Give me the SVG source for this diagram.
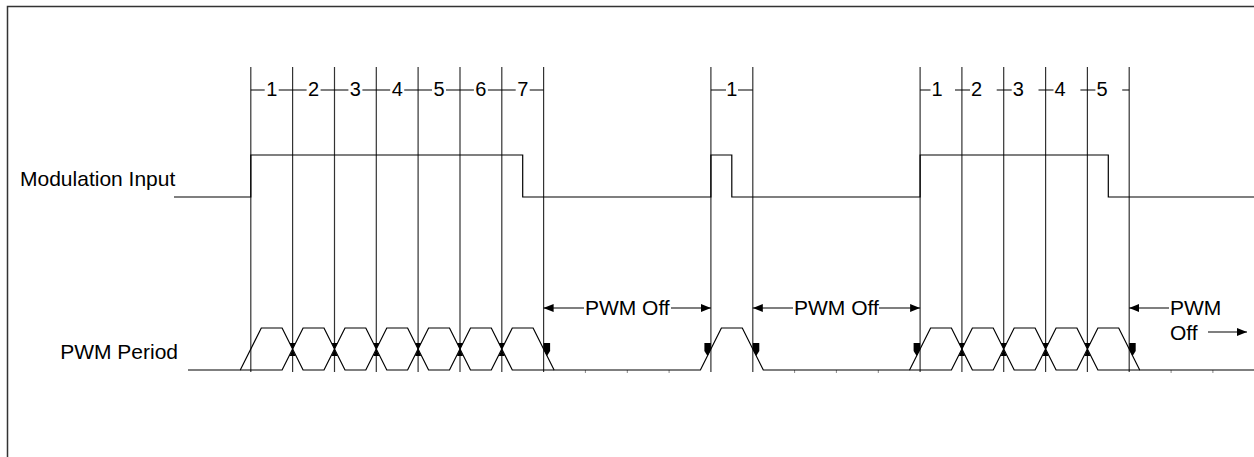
<svg xmlns="http://www.w3.org/2000/svg" width="1254" height="457" viewBox="0 0 1254 457">
<style>
.t{font-family:"Liberation Sans",Arial,sans-serif;font-size:21px;fill:#000}
.d{font-family:"Liberation Sans",Arial,sans-serif;font-size:20px;fill:#000}
.w{fill:none;stroke:#000;stroke-width:1.2}
.v{fill:none;stroke:#333;stroke-width:1.2}
.k{fill:none;stroke:#888;stroke-width:1}
.m{fill:#000;stroke:none}
.a{fill:none;stroke:#000;stroke-width:1.2;marker-end:url(#ah)}
</style>
<defs>
<marker id="ah" viewBox="0 0 10 8" refX="10" refY="4" markerWidth="10" markerHeight="8" markerUnits="userSpaceOnUse" orient="auto-start-reverse"><path d="M0,0 L10,4 L0,8 z" fill="#000"/></marker>
</defs>
<rect width="1254" height="457" fill="#fff"/>
<path d="M7.5,457 V6.5 H1254" fill="none" stroke="#333" stroke-width="1.5"/>

<g id="labels">
<text class="t" x="20" y="186">Modulation Input</text>
<text class="t" x="178" y="359" text-anchor="end">PWM Period</text>
</g>

<g id="grid">
<path class="v" d="M250.8,67V372 M292.6,67V372 M334.5,67V372 M376.3,67V372 M418.1,67V372 M460,67V372 M501.8,67V372 M543.6,67V372 M710.9,67V372 M752.8,67V372 M920.1,67V372 M961.9,67V372 M1003.7,67V372 M1045.6,67V372 M1087.4,67V372 M1129.2,67V372"/>
<path class="k" d="M585.4,370V373 M627.3,370V373 M669.1,370V373 M794.6,370V373 M836.4,370V373 M878.3,370V373 M1171.1,370V373 M1212.9,370V373"/>
</g>

<g id="period-labels">
<path class="w" d="M250.8,90 H264.7 M278.7,90 H306.6 M320.6,90 H348.4 M362.4,90 H390.2 M404.2,90 H432 M446,90 H473.9 M487.9,90 H515.7 M529.7,90 H543.6 M710.9,90 H726 M738,90 H752.8 M920.1,90 H930.5 M955,90 H970 M996.7,90 H1011.7 M1038.5,90 H1053.5 M1080.4,90 H1095.4 M1122.2,90 H1129.2"/>
<g class="d" text-anchor="middle">
<text x="271.7" y="96">1</text><text x="313.6" y="96">2</text><text x="355.4" y="96">3</text><text x="397.2" y="96">4</text><text x="439" y="96">5</text><text x="480.9" y="96">6</text><text x="522.7" y="96">7</text>
<text x="731.8" y="96">1</text>
</g>
<g class="d">
<text x="931.5" y="96">1</text><text x="971" y="96">2</text><text x="1012.7" y="96">3</text><text x="1054.5" y="96">4</text><text x="1096.4" y="96">5</text>
</g>
</g>

<g id="modulation">
<path class="w" d="M174,197 H250.8 V155 H522.7 V197 H710.9 V155 H731.8 V197 H920.1 V155 H1108.3 V197 H1254"/>
</g>

<g id="pwm">
<path class="w" d="M188,370 H240.3 L261.3,328 H282.1 L303.1,370 H324 L345,328 H365.8 L386.8,370 H407.6 L428.6,328 H449.5 L470.5,370 H491.3 L512.3,328 H533.1 L554.1,370 H700.4 L721.4,328 H742.3 L763.3,370 H909.6 L930.6,328 H951.4 L972.4,370 H993.2 L1014.2,328 H1035.1 L1056.1,370 H1076.9 L1097.9,328 H1118.7 L1139.7,370 H1254"/>
<path class="w" d="M240.3,370 H282.1 L303.1,328 H324 L345,370 H365.8 L386.8,328 H407.6 L428.6,370 H449.5 L470.5,328 H491.3 L512.3,370 H554.1 M909.6,370 H951.4 L972.4,328 H993.2 L1014.2,370 H1035.1 L1056.1,328 H1076.9 L1097.9,370 H1139.7"/>
<g class="m">
<path d="M289.6,343 H295.6 L292.6,349.2 L295.6,356 H289.6 L292.6,349.2 Z"/>
<path d="M331.5,343 H337.5 L334.5,349.2 L337.5,356 H331.5 L334.5,349.2 Z"/>
<path d="M373.3,343 H379.3 L376.3,349.2 L379.3,356 H373.3 L376.3,349.2 Z"/>
<path d="M415.1,343 H421.1 L418.1,349.2 L421.1,356 H415.1 L418.1,349.2 Z"/>
<path d="M457,343 H463 L460,349.2 L463,356 H457 L460,349.2 Z"/>
<path d="M498.8,343 H504.8 L501.8,349.2 L504.8,356 H498.8 L501.8,349.2 Z"/>
<path d="M958.9,343 H964.9 L961.9,349.2 L964.9,356 H958.9 L961.9,349.2 Z"/>
<path d="M1000.7,343 H1006.7 L1003.7,349.2 L1006.7,356 H1000.7 L1003.7,349.2 Z"/>
<path d="M1042.6,343 H1048.6 L1045.6,349.2 L1048.6,356 H1042.6 L1045.6,349.2 Z"/>
<path d="M1084.4,343 H1090.4 L1087.4,349.2 L1090.4,356 H1084.4 L1087.4,349.2 Z"/>
<path d="M543.6,343 H550.1 V351 L547,356 L543.6,349.5 Z"/>
<path d="M752.8,343 H759.3 V351 L756.2,356 L752.8,349.5 Z"/>
<path d="M1129.2,343 H1135.7 V351 L1132.6,356 L1129.2,349.5 Z"/>
<path d="M710.9,343 H704.4 V351 L707.5,356 L710.9,349.5 Z"/>
<path d="M920.1,343 H913.6 V351 L916.7,356 L920.1,349.5 Z"/>
</g>
</g>

<g id="connectors">
<path class="a" d="M584,308 H543.6"/>
<path class="a" d="M671,308 H710.9"/>
<path class="a" d="M793,308 H752.8"/>
<path class="a" d="M879,308 H920.1"/>
<path class="a" d="M1169,308 H1129.2"/>
<path class="a" d="M1208,332 H1247"/>
</g>

<g id="offlabels">
<text class="t" x="627.3" y="315" text-anchor="middle">PWM Off</text>
<text class="t" x="836.4" y="315" text-anchor="middle">PWM Off</text>
<text class="t" x="1170" y="315">PWM</text>
<text class="t" x="1170" y="340">Off</text>
</g>
</svg>
